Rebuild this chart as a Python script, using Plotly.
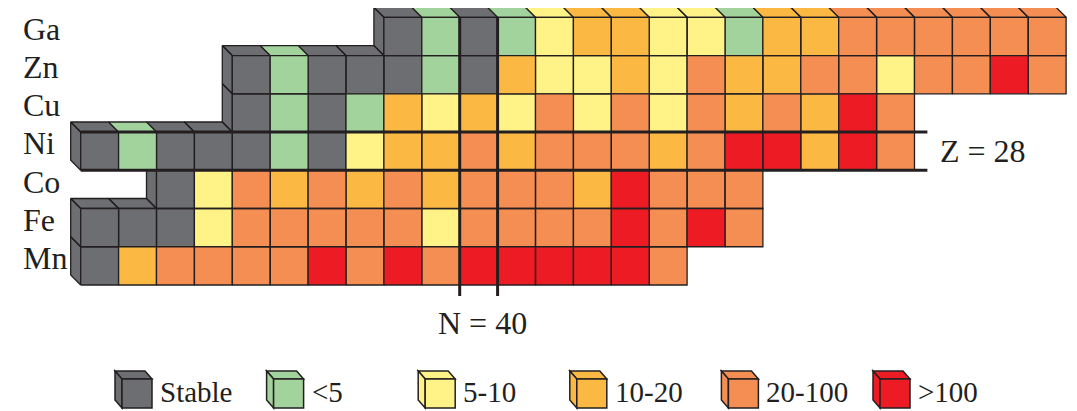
import plotly.graph_objects as go

# ---------------- data ----------------
elements = ["Mn", "Fe", "Co", "Ni", "Cu", "Zn", "Ga"]
proton_numbers = [25, 26, 27, 28, 29, 30, 31]
first_neutron = [30, 30, 32, 30, 34, 34, 38]

# class codes per isotope, from the first neutron number upward
mn_row = ["S", "L", "O", "O", "O", "O", "R", "O", "R", "O", "R", "R", "R", "R", "R", "O"]
fe_row = ["S", "S", "S", "Y", "O", "O", "O", "O", "O", "Y", "O", "O", "O", "O", "R", "O", "R", "O"]
co_row = ["S", "Y", "O", "L", "O", "L", "O", "L", "O", "O", "O", "L", "R", "O", "O", "O"]
ni_row = ["S", "G", "S", "S", "S", "G", "S", "Y", "L", "L", "O", "L", "O", "O", "O", "L",
          "O", "R", "R", "L", "R", "O"]
cu_row = ["S", "G", "S", "G", "L", "Y", "L", "Y", "O", "Y", "O", "Y", "O", "L", "O", "L", "R", "O"]
zn_row = ["S", "G", "S", "S", "S", "G", "S", "L", "Y", "Y", "L", "Y", "O", "L", "L", "O",
          "O", "Y", "O", "O", "R", "O"]
ga_row = ["S", "G", "S", "G", "Y", "L", "L", "Y", "Y", "G", "L", "L", "O", "O", "O", "O", "O", "O"]
rows = [mn_row, fe_row, co_row, ni_row, cu_row, zn_row, ga_row]

category_codes = ["S", "G", "Y", "L", "O", "R"]
category_labels = ["Stable", "<5", "5-10", "10-20", "20-100", ">100"]
category_colors = ["#6d6e71", "#a3d39c", "#fff388", "#fbb843", "#f58e53", "#ed1c24"]

magic_N = 40
magic_Z = 28

# ---------------- geometry / style ----------------
OFF = 8                      # page body margin of the html page
WIN_W, WIN_H = 1077, 411
W, H = WIN_W - OFF, WIN_H - OFF
PX_X = 37.9
PX_Y = 38.24
x_lo = 29.5 - (80.7 - OFF) / PX_X
y_hi = 31.5 + (17.3 - OFF) / PX_Y
x_range = [x_lo, x_lo + W / PX_X]
y_range = [y_hi - H / PX_Y, y_hi]
DX = -10 / PX_X
DY = 10 / PX_Y
EDGE = "#231f20"
FONT = "Liberation Serif"

cells = {}
for z, n0, row in zip(proton_numbers, first_neutron, rows):
    for i, c in enumerate(row):
        cells[(n0 + i, z)] = c


def add_poly(pts, xs, ys):
    for a, b in pts + [pts[0]]:
        xs.append(a)
        ys.append(b)
    xs.append(None)
    ys.append(None)


back = {c: ([], []) for c in category_codes}
front = {c: ([], []) for c in category_codes}
for (n, z), c in cells.items():
    l, r, b, t = n - 0.5, n + 0.5, z - 0.5, z + 0.5
    add_poly([(l, b), (r, b), (r, t), (l, t)], *front[c])
    if (n, z + 1) not in cells:
        add_poly([(l, t), (r, t), (r + DX, t + DY), (l + DX, t + DY)], *back[c])
    if (n - 1, z) not in cells:
        add_poly([(l, b), (l, t), (l + DX, t + DY), (l + DX, b + DY)], *back[c])

fig = go.Figure()
for layer in (back, front):
    for code, color in zip(category_codes, category_colors):
        xs, ys = layer[code]
        if not xs:
            continue
        fig.add_trace(go.Scatter(
            x=xs, y=ys, mode="lines", fill="toself", fillcolor=color,
            line=dict(color=EDGE, width=1.3), hoverinfo="skip", showlegend=False))

# magic number lines
z_min, z_max = min(proton_numbers), max(proton_numbers)
n_min = min(n for (n, z) in cells)
ni_last = max(n for (n, z) in cells if z == magic_Z)
for xv in (magic_N - 0.5, magic_N + 0.5):
    fig.add_trace(go.Scatter(x=[xv, xv], y=[z_min - 0.5 - 0.29, z_max + 0.5], mode="lines",
                             line=dict(color=EDGE, width=3), hoverinfo="skip", showlegend=False))
for yv in (magic_Z - 0.5, magic_Z + 0.5):
    fig.add_trace(go.Scatter(x=[n_min - 0.5, ni_last + 0.5 + 0.34], y=[yv, yv], mode="lines",
                             line=dict(color=EDGE, width=3), hoverinfo="skip", showlegend=False))


def pxx(xp):
    return (xp - OFF) / W


def pxy(yp):
    return 1 - (yp - OFF) / H


annotations = []
for el, z in zip(elements, proton_numbers):
    annotations.append(dict(x=pxx(21), xref="paper", y=z + 0.2, yref="y", text=el,
                            showarrow=False, xanchor="left", yanchor="middle",
                            font=dict(family=FONT, size=32, color=EDGE)))
annotations.append(dict(x=pxx(938), xref="paper", y=magic_Z, yref="y", text="Z = 28",
                        showarrow=False, xanchor="left", yanchor="middle",
                        font=dict(family=FONT, size=32, color=EDGE)))
annotations.append(dict(x=magic_N + 0.1, xref="x", y=z_min - 1.5, yref="y", text="N = 40",
                        showarrow=False, xanchor="center", yanchor="middle",
                        font=dict(family=FONT, size=32, color=EDGE)))

# legend drawn as small cubes
shapes = []


def pt(xp, yp):
    return f"{pxx(xp):.5f},{pxy(yp):.5f}"


for i, (lab, col) in enumerate(zip(category_labels, category_colors)):
    L = 115 + 151.6 * i
    fl, fr, ft, fb = L + 7, L + 37, 379, 408
    faces = [
        [(fl, ft), (fr, ft), (fr - 7, ft - 8), (fl - 7, ft - 8)],
        [(fl, ft), (fl, fb), (fl - 7, fb - 8), (fl - 7, ft - 8)],
        [(fl, ft), (fr, ft), (fr, fb), (fl, fb)],
    ]
    for f in faces:
        path = "M " + " L ".join(pt(a, b) for a, b in f) + " Z"
        shapes.append(dict(type="path", xref="paper", yref="paper", path=path,
                           fillcolor=col, line=dict(color=EDGE, width=1.5)))
    annotations.append(dict(x=pxx(L + 43), xref="paper", y=pxy(392), yref="paper",
                            text=lab, showarrow=False, xanchor="left", yanchor="middle",
                            font=dict(family=FONT, size=29, color=EDGE)))

fig.update_layout(
    width=W, height=H, autosize=False,
    margin=dict(l=0, r=0, t=0, b=0, pad=0),
    paper_bgcolor="white", plot_bgcolor="white",
    xaxis=dict(range=x_range, visible=False, fixedrange=True),
    yaxis=dict(range=y_range, visible=False, fixedrange=True),
    annotations=annotations, shapes=shapes, showlegend=False,
)
fig.write_html("out.html")
